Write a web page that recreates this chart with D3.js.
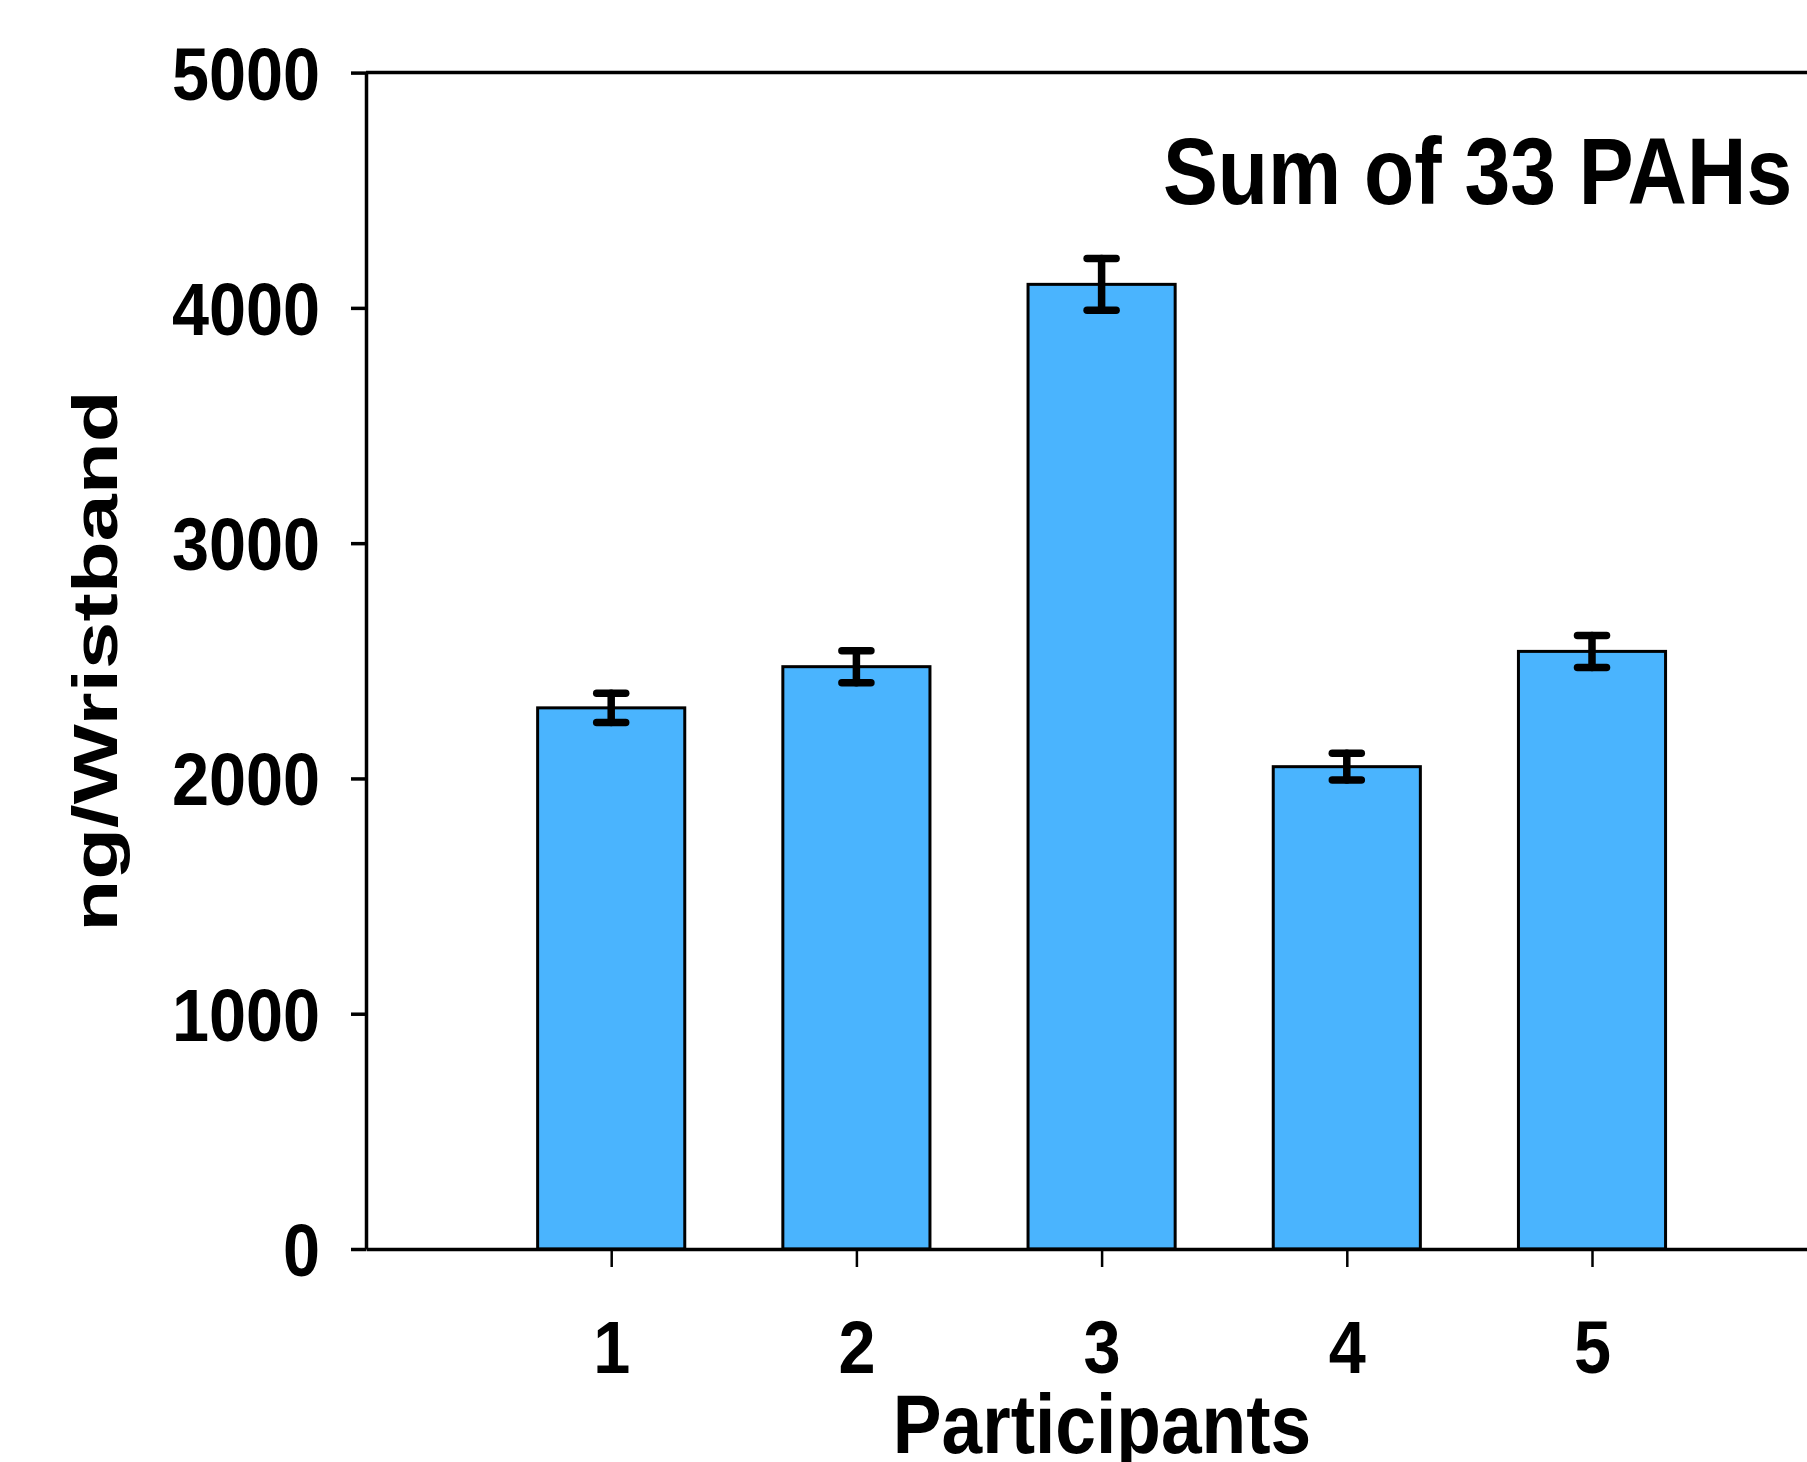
<!DOCTYPE html>
<html>
<head>
<meta charset="utf-8">
<script src="https://cdn.jsdelivr.net/npm/d3@7"></script>
<style>
  html, body { margin: 0; padding: 0; background: #fff; }
  svg { display: block; }
  text { font-family: "Liberation Sans", Arial, sans-serif; font-weight: bold; fill: #000; }
</style>
</head>
<body>
<div id="theChart"></div>
<script>
// values
const participants = [1, 2, 3, 4, 5]
const means = [2300, 2475, 4100, 2050, 2540]
const errors = [62, 68, 110, 57, 68]
const yTicks = [0, 1000, 2000, 3000, 4000, 5000]
const title = "Sum of 33 PAHs"
const xTitle = "Participants"
const yTitle = "ng/Wristband"

const w = 1807
const h = 1462
const plotLeft = 366
const plotTop = 72.6
const plotBottom = 1249
const step = 245.2

const svg = d3.select("#theChart")
	.append("svg")
	.attr("width", w)
	.attr("height", h)

const x = d3.scaleLinear().domain([0, 6]).range([plotLeft, plotLeft + 6 * step])
const y = d3.scaleLinear().domain([0, 5000]).range([plotBottom, plotTop])

const barW = 0.6
const capHalf = 14.5

// bars
svg.selectAll("rect.bar")
	.data(participants)
	.enter()
	.append("rect")
	.attr("class", "bar")
	.attr("x", d => x(d - barW / 2))
	.attr("width", x(barW) - x(0))
	.attr("y", (d, i) => y(means[i]))
	.attr("height", (d, i) => y(0) - y(means[i]))
	.attr("fill", "#4ab4fe")
	.attr("stroke", "#000")
	.attr("stroke-width", 3)

// error bars
const err = svg.append("g")
	.attr("stroke", "#000")
	.attr("stroke-width", 7.5)
	.attr("stroke-linecap", "round")

err.selectAll("line.stem")
	.data(participants)
	.enter()
	.append("line")
	.attr("x1", d => x(d))
	.attr("x2", d => x(d))
	.attr("y1", (d, i) => y(means[i] - errors[i]))
	.attr("y2", (d, i) => y(means[i] + errors[i]))

;[1, -1].forEach(sign => {
	err.selectAll("line.cap" + sign)
		.data(participants)
		.enter()
		.append("line")
		.attr("x1", d => x(d) - capHalf)
		.attr("x2", d => x(d) + capHalf)
		.attr("y1", (d, i) => y(means[i] + sign * errors[i]))
		.attr("y2", (d, i) => y(means[i] + sign * errors[i]))
})

// top frame line
svg.append("line")
	.attr("x1", plotLeft)
	.attr("x2", x(6))
	.attr("y1", y(5000))
	.attr("y2", y(5000))
	.attr("stroke", "#000")
	.attr("stroke-width", 3.5)

// y axis
const yAxis = svg.append("g")
	.attr("transform", `translate(${plotLeft},0)`)
	.call(d3.axisLeft(y).tickValues(yTicks).tickSize(15).tickSizeOuter(0).tickFormat(d3.format("d")))

yAxis.select(".domain").attr("stroke-width", 3.5)
yAxis.selectAll(".tick line").attr("stroke-width", 3.5)
yAxis.selectAll(".tick text")
	.attr("x", null)
	.attr("dy", null)
	.attr("transform", "translate(-46,26.5) scale(0.9,1)")
	.attr("text-anchor", "end")
	.style("font-size", "74px")

// x axis
const xAxis = svg.append("g")
	.attr("transform", `translate(0,${plotBottom})`)
	.call(d3.axisBottom(x).tickValues(participants).tickSize(18).tickSizeOuter(0).tickFormat(d3.format("d")))

xAxis.select(".domain").attr("stroke-width", 3.5)
xAxis.selectAll(".tick line").attr("stroke-width", 2.5)
xAxis.selectAll(".tick text")
	.attr("y", null)
	.attr("dy", null)
	.attr("transform", "translate(0,124) scale(0.9,1)")
	.attr("text-anchor", "middle")
	.style("font-size", "74px")

svg.selectAll(".tick text")
	.attr("font-family", null)
	.attr("font-size", null)
	.attr("fill", "#000")
svg.selectAll("g").attr("font-family", null).attr("font-size", null)

// axis titles
svg.append("text")
	.attr("transform", "translate(1102,1453) scale(0.87,1)")
	.attr("text-anchor", "middle")
	.style("font-size", "84px")
	.text(xTitle)

svg.append("text")
	.attr("transform", "translate(117,661) rotate(-90) scale(1,0.74)")
	.attr("text-anchor", "middle")
	.style("font-size", "85px")
	.text(yTitle)

// panel label
svg.append("text")
	.attr("transform", "translate(1163,204) scale(0.875,1)")
	.attr("text-anchor", "start")
	.style("font-size", "94px")
	.text(title)
</script>
</body>
</html>
